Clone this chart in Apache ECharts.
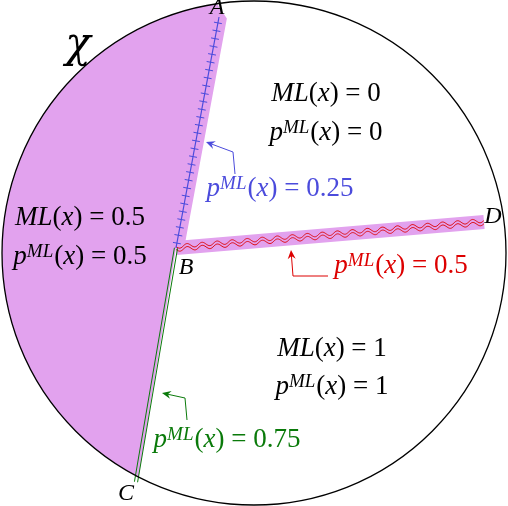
<!DOCTYPE html>
<html>
<head>
<meta charset="utf-8">
<script src="https://cdn.jsdelivr.net/npm/echarts@6/dist/echarts.min.js"></script>
<style>html,body{margin:0;padding:0;background:#fff}#main{width:508px;height:506px}</style>
</head>
<body>
<div id="main"></div>
<script>
(function () {
    // points of the figure (pixel-like units, y grows downward)
    var center = [254, 253];
    var radius = 252;
    var ptA = [219, 17];
    var ptB = [176, 248];
    var ptC = [136, 482];
    var ptD = [484, 222];
    var blueArrow = [[235, 174], [233, 152], [206, 142]];
    var redArrow = [[328, 276], [293, 276], [291, 250]];
    var greenArrow = [[187, 420], [185, 398], [162, 393]];
    var pointLabels = [['A', 217, 8], ['B', 186, 268], ['C', 126, 494], ['D', 493, 217]];
    var regionLabels = [
        ['{i|ML}{n|(}{i|x}{n|) = 0}', 326, 94, '#000'],
        ['{i|p}{s|ML}{n|(}{i|x}{n|) = 0}', 326, 133, '#000'],
        ['{i|ML}{n|(}{i|x}{n|) = 0.5}', 80, 218, '#000'],
        ['{i|p}{s|ML}{n|(}{i|x}{n|) = 0.5}', 80, 257, '#000'],
        ['{i|ML}{n|(}{i|x}{n|) = 1}', 332, 349, '#000'],
        ['{i|p}{s|ML}{n|(}{i|x}{n|) = 1}', 332, 387, '#000'],
        ['{i|p}{s|ML}{n|(}{i|x}{n|) = 0.25}', 280, 189, '#4b4bdc'],
        ['{i|p}{s|ML}{n|(}{i|x}{n|) = 0.5}', 401, 266, '#dd0000'],
        ['{i|p}{s|ML}{n|(}{i|x}{n|) = 0.75}', 227, 440, '#0a7a0a']
    ];
    var pink = '#e2a2ee';
    var fontFam = 'Liberation Serif';

    var chartDom = document.getElementById('main');
    var myChart = echarts.init(chartDom);

    function richFor(color) {
        return {
            i: { fontFamily: fontFam, fontStyle: 'italic', fontSize: 27, fill: color, lineHeight: 30 },
            n: { fontFamily: fontFam, fontSize: 27, fill: color, lineHeight: 30 },
            s: { fontFamily: fontFam, fontStyle: 'italic', fontSize: 19, fill: color, verticalAlign: 'top', lineHeight: 30, padding: [0, 1, 12, 0] }
        };
    }

    function arrowEls(api, pts, color) {
        var p = pts.map(function (q) { return api.coord(q); });
        var a = p[p.length - 1], b = p[p.length - 2];
        var ang = Math.atan2(a[1] - b[1], a[0] - b[0]);
        var L = 9, W = 4;
        var bx = a[0] - L * Math.cos(ang), by = a[1] - L * Math.sin(ang);
        var head = [a, [bx + W * Math.sin(ang), by - W * Math.cos(ang)], [a[0] - 6 * Math.cos(ang), a[1] - 6 * Math.sin(ang)], [bx - W * Math.sin(ang), by + W * Math.cos(ang)]];
        return [
            { type: 'polyline', shape: { points: p.slice(0, -1).concat([[a[0] - 6 * Math.cos(ang), a[1] - 6 * Math.sin(ang)]]) }, style: { stroke: color, lineWidth: 1, fill: null } },
            { type: 'polygon', shape: { points: head }, style: { fill: color } }
        ];
    }

    function renderFigure(params, api) {
        var c = api.coord(center);
        var r = api.size([radius, 0])[0];
        var A = api.coord(ptA), B = api.coord(ptB), C = api.coord(ptC), D = api.coord(ptD);
        var els = [];
        var ux = B[0] - A[0], uy = B[1] - A[1], len = Math.hypot(ux, uy);
        ux /= len; uy /= len;
        var nx = uy, ny = -ux; // points right of AB
        var sw = 8;
        // left region plus the thin strip right of AB
        var a0 = Math.atan2(A[1] - c[1], A[0] - c[0]);
        var a1 = Math.atan2(C[1] - c[1], C[0] - c[0]);
        if (a0 < 0) a0 += 2 * Math.PI;
        var poly = [];
        for (var k = 0; k <= 80; k++) {
            var t = a1 + (a0 - a1) * k / 80;
            poly.push([c[0] + r * Math.cos(t), c[1] + r * Math.sin(t)]);
        }
        poly.push([A[0] + nx * sw, A[1] + ny * sw]);
        poly.push([B[0] + nx * sw, B[1] + ny * sw]);
        poly.push(B);
        els.push({ type: 'polygon', shape: { points: poly }, style: { fill: pink, stroke: null } });
        // strip along BD
        var vx = D[0] - B[0], vy = D[1] - B[1], l2 = Math.hypot(vx, vy);
        vx /= l2; vy /= l2;
        var mx = -vy, my = vx, h = 7;
        els.push({ type: 'polygon', shape: { points: [[B[0] + mx * h, B[1] + my * h], [D[0] + mx * h, D[1] + my * h], [D[0] - mx * h, D[1] - my * h], [B[0] - mx * h, B[1] - my * h]] }, style: { fill: pink, stroke: null } });
        // wavy red double line
        [-1.5, 1.5].forEach(function (off) {
            var w = [];
            for (var s = 0; s <= l2; s += 1) {
                var amp = 2 * Math.sin(s / 2.4) + off;
                w.push([B[0] + vx * s + mx * amp, B[1] + vy * s + my * amp]);
            }
            els.push({ type: 'polyline', shape: { points: w }, style: { stroke: '#dd0000', lineWidth: 0.9, fill: null } });
        });
        // blue AB line with ticks
        els.push({ type: 'line', shape: { x1: A[0], y1: A[1], x2: B[0], y2: B[1] }, style: { stroke: '#4b4bdc', lineWidth: 1.2 } });
        for (var d = 6; d < len; d += 8) {
            var px = A[0] + ux * d, py = A[1] + uy * d;
            els.push({ type: 'line', shape: { x1: px - nx * 4, y1: py - ny * 4, x2: px + nx * 4, y2: py + ny * 4 }, style: { stroke: '#4b4bdc', lineWidth: 1 } });
        }
        // green double BC line
        var wx = C[0] - B[0], wy = C[1] - B[1], l3 = Math.hypot(wx, wy);
        var gx = -wy / l3, gy = wx / l3;
        [-1.6, 1.6].forEach(function (off) {
            els.push({ type: 'line', shape: { x1: B[0] + gx * off, y1: B[1] + gy * off, x2: C[0] + gx * off, y2: C[1] + gy * off }, style: { stroke: '#0a7a0a', lineWidth: 1 } });
        });
        // circle
        els.push({ type: 'circle', shape: { cx: c[0], cy: c[1], r: r }, style: { fill: null, stroke: '#000', lineWidth: 1.3 } });
        // arrows
        els = els.concat(arrowEls(api, blueArrow, '#4b4bdc'), arrowEls(api, redArrow, '#dd0000'), arrowEls(api, greenArrow, '#0a7a0a'));
        // labels
        pointLabels.forEach(function (pl) {
            var p = api.coord([pl[1], pl[2]]);
            els.push({ type: 'text', x: p[0], y: p[1], style: { text: pl[0], fontFamily: fontFam, fontStyle: 'italic', fontSize: 24, fill: '#000', align: 'center', verticalAlign: 'middle' } });
        });
        regionLabels.forEach(function (rl) {
            var p = api.coord([rl[1], rl[2]]);
            els.push({ type: 'text', x: p[0], y: p[1], style: { text: rl[0], rich: richFor(rl[3]), align: 'center', verticalAlign: 'middle' } });
        });
        var chi = api.coord([78, 46]);
        els.push({ type: 'text', x: chi[0], y: chi[1], style: { text: 'χ', fontFamily: 'DejaVu Serif', fontStyle: 'italic', fontSize: 42, fill: '#000', align: 'center', verticalAlign: 'middle' } });
        return { type: 'group', children: els };
    }

    var option = {
        animation: false,
        grid: { left: 0, right: 0, top: 0, bottom: 0 },
        xAxis: { type: 'value', min: 0, max: 508, show: false },
        yAxis: { type: 'value', min: 0, max: 506, inverse: true, show: false },
        series: [{
            type: 'custom',
            renderItem: renderFigure,
            data: [[0, 0]],
            silent: true
        }]
    };

    myChart.setOption(option);
    window.addEventListener("resize", function () {
        myChart.resize();
    });
})();
</script>
</body>
</html>
